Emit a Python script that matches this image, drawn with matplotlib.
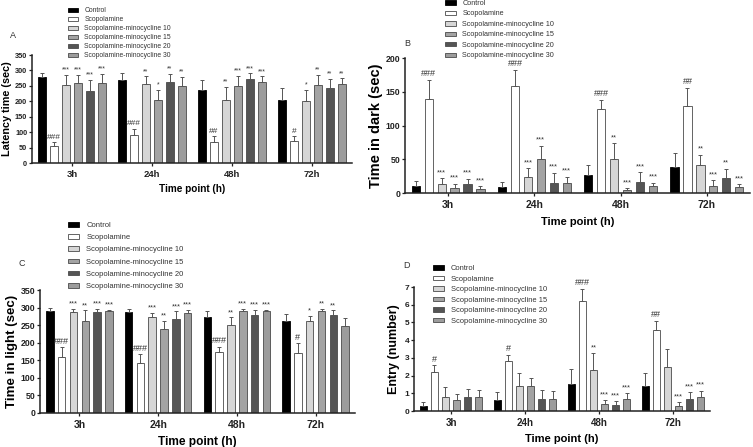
import numpy as np
import matplotlib
matplotlib.use("Agg")
import matplotlib.pyplot as plt
from matplotlib.patches import Patch

plt.rcParams['font.family'] = ['Liberation Sans', 'DejaVu Sans']

time_points = ["3h", "24h", "48h", "72h"]
groups = ["Control", "Scopolamine", "Scopolamine-minocycline 10",
          "Scopolamine-minocycline 15", "Scopolamine-minocycline 20",
          "Scopolamine-minocycline 30"]
colors = ["#000000", "#ffffff", "#d6d6d6", "#a3a3a3", "#555555", "#9c9c9c"]

# Panel A: latency time (sec)
latency_mean = [
    [280, 270, 236, 203],
    [54, 90, 68, 70],
    [253, 256, 205, 200],
    [260, 203, 250, 253],
    [234, 261, 273, 242],
    [259, 251, 263, 255],
]
latency_err = [
    [13, 23, 34, 40],
    [14, 21, 20, 17],
    [32, 25, 41, 37],
    [25, 35, 32, 32],
    [35, 27, 18, 31],
    [29, 29, 18, 19],
]
latency_sig = [
    ["", "", "", ""],
    ["###", "###", "##", "#"],
    ["***", "**", "**", "*"],
    ["***", "*", "***", "**"],
    ["***", "**", "***", "**"],
    ["***", "**", "***", "**"],
]

# Panel B: time in dark (sec)
dark_mean = [
    [10, 9, 26, 38],
    [140, 158, 125, 129],
    [13, 23, 51, 41],
    [8, 50, 4, 11],
    [14, 15, 17, 22],
    [6, 15, 10, 9],
]
dark_err = [
    [8, 8, 16, 22],
    [27, 24, 13, 27],
    [9, 14, 23, 16],
    [6, 20, 3, 8],
    [7, 15, 14, 14],
    [4, 9, 5, 4],
]
dark_sig = [
    ["", "", "", ""],
    ["###", "###", "###", "##"],
    ["***", "***", "**", "**"],
    ["***", "***", "***", "***"],
    ["***", "***", "***", "**"],
    ["***", "***", "***", "***"],
]

# Panel C: time in light (sec)
light_mean = [
    [290, 287, 274, 261],
    [160, 142, 174, 171],
    [287, 272, 249, 261],
    [261, 240, 291, 289],
    [287, 268, 278, 278],
    [289, 284, 289, 247],
]
light_err = [
    [8, 9, 16, 22],
    [27, 25, 14, 27],
    [9, 13, 23, 16],
    [31, 22, 5, 8],
    [8, 21, 16, 14],
    [5, 10, 5, 24],
]
light_sig = [
    ["", "", "", ""],
    ["###", "###", "###", "#"],
    ["***", "***", "**", "*"],
    ["**", "**", "***", "**"],
    ["***", "***", "***", "**"],
    ["***", "***", "***", ""],
]

# Panel D: entry (number)
entry_mean = [
    [0.28, 0.6, 1.5, 1.4],
    [2.2, 2.8, 6.2, 4.6],
    [0.8, 1.4, 2.3, 2.5],
    [0.6, 1.4, 0.4, 0.28],
    [0.8, 0.7, 0.33, 0.65],
    [0.8, 0.7, 0.7, 0.8],
]
entry_err = [
    [0.22, 0.5, 0.87, 0.75],
    [0.37, 0.35, 0.67, 0.47],
    [0.55, 0.72, 0.95, 0.98],
    [0.35, 0.47, 0.22, 0.22],
    [0.43, 0.48, 0.22, 0.4],
    [0.37, 0.42, 0.32, 0.35],
]
entry_sig = [
    ["", "", "", ""],
    ["#", "#", "###", "##"],
    ["", "", "**", ""],
    ["", "", "***", "***"],
    ["", "", "***", "***"],
    ["", "", "***", "***"],
]

W, H = 753, 447
fig = plt.figure(figsize=(W / 100, H / 100), dpi=100)


def px_axes(l, t, r, b):
    return fig.add_axes([l / W, 1 - b / H, (r - l) / W, (b - t) / H])


def draw_panel(ax, means, errs, sigs, ymax, ystep, ylabel, fs, sig_off):
    n = len(groups)
    xg = np.arange(len(time_points))
    slot = 0.15
    bw = 0.095
    for j in range(n):
        xs = xg + (j - (n - 1) / 2) * slot
        m = np.array(means[j], dtype=float)
        e = np.array(errs[j], dtype=float)
        ax.bar(xs, m, width=bw, color=colors[j],
               edgecolor="#000000" if j == 0 else "#4a4a4a",
               linewidth=0.6, zorder=2)
        ax.errorbar(xs, m, yerr=[np.zeros_like(e), e], fmt="none",
                    ecolor="#555555", elinewidth=0.7, capsize=1.6,
                    capthick=0.7, zorder=3)
        for k in range(len(xg)):
            s = sigs[j][k]
            if s:
                hash_ = s.startswith("#")
                ax.text(xs[k], m[k] + e[k] + sig_off * ymax, s,
                        ha="center", va="bottom",
                        fontsize=fs["hash"] if hash_ else fs["star"],
                        color="#333333", zorder=4)
    ax.set_xlim(-0.5, len(xg) - 0.5)
    ax.set_ylim(0, ymax)
    ax.set_yticks(np.arange(0, ymax + ystep / 2, ystep))
    ax.set_xticks(xg)
    ax.set_xticklabels(time_points, fontweight="bold", fontsize=fs["xt"])
    for lab in ax.get_yticklabels():
        lab.set_fontweight("bold")
        lab.set_fontsize(fs["yt"])
    ax.spines["top"].set_visible(False)
    ax.spines["right"].set_visible(False)
    for sp in ("left", "bottom"):
        ax.spines[sp].set_linewidth(1.1)
        ax.spines[sp].set_color("#222222")
    ax.tick_params(axis="both", direction="out", length=2.5, width=0.9,
                   pad=1.0, colors="#222222")
    ax.tick_params(axis="x", pad=2.5)
    ax.set_xlabel("Time point (h)", fontweight="bold", fontsize=fs["xl"],
                  labelpad=fs["xlpad"])
    ax.set_ylabel(ylabel, fontweight="bold", fontsize=fs["yl"],
                  labelpad=fs["ylpad"])


def add_legend(handles, x, ytop, fsz, spacing):
    leg = fig.legend(handles, groups, loc="upper left",
                     bbox_to_anchor=(x / W, 1 - ytop / H),
                     frameon=False, fontsize=fsz, handlelength=1.5,
                     handleheight=0.55, handletextpad=0.9,
                     labelspacing=spacing, borderpad=0, borderaxespad=0)
    for t in leg.get_texts():
        t.set_color("#333333")
    return leg


# Panel A
axA = px_axes(32, 55, 352, 163)
draw_panel(axA, latency_mean, latency_err, latency_sig, 350, 50,
           "Latency time (sec)",
           dict(hash=6, star=5, xt=6.8, yt=5.3, xl=7.2, yl=7.8,
                xlpad=4, ylpad=2), 0.012)
# Panel B
axB = px_axes(405, 58, 750, 193)
draw_panel(axB, dark_mean, dark_err, dark_sig, 200, 50,
           "Time in dark (sec)",
           dict(hash=6.5, star=5.3, xt=7.5, yt=6.3, xl=8, yl=10.5,
                xlpad=5, ylpad=2), 0.015)
# Panel C
axC = px_axes(40, 290, 355, 413)
draw_panel(axC, light_mean, light_err, light_sig, 350, 50,
           "Time in light (sec)",
           dict(hash=6.5, star=5.3, xt=7.5, yt=6.3, xl=8.6, yl=9.6,
                xlpad=4, ylpad=2), 0.012)
# Panel D
axD = px_axes(414, 287, 710, 411)
draw_panel(axD, entry_mean, entry_err, entry_sig, 7, 1,
           "Entry (number)",
           dict(hash=6.5, star=5.3, xt=7, yt=6, xl=8, yl=9,
                xlpad=4, ylpad=3), 0.015)

handles = [Patch(facecolor=c, edgecolor="#000000" if i == 0 else "#4a4a4a",
                 linewidth=0.6) for i, c in enumerate(colors)]

add_legend(handles, 68, 7, 4.9, 0.3)
add_legend(handles, 445, 0, 5.2, 0.48)
add_legend(handles, 68, 222, 5.5, 0.68)
add_legend(handles, 433, 265, 5.4, 0.47)

for lab, x, y in [("A", 13, 36), ("B", 407, 43), ("C", 22, 263), ("D", 407, 265)]:
    fig.text(x / W, 1 - y / H, lab, fontsize=6.5, ha="center", va="center",
             color="#333333")

fig.savefig("out.png", dpi=100)
